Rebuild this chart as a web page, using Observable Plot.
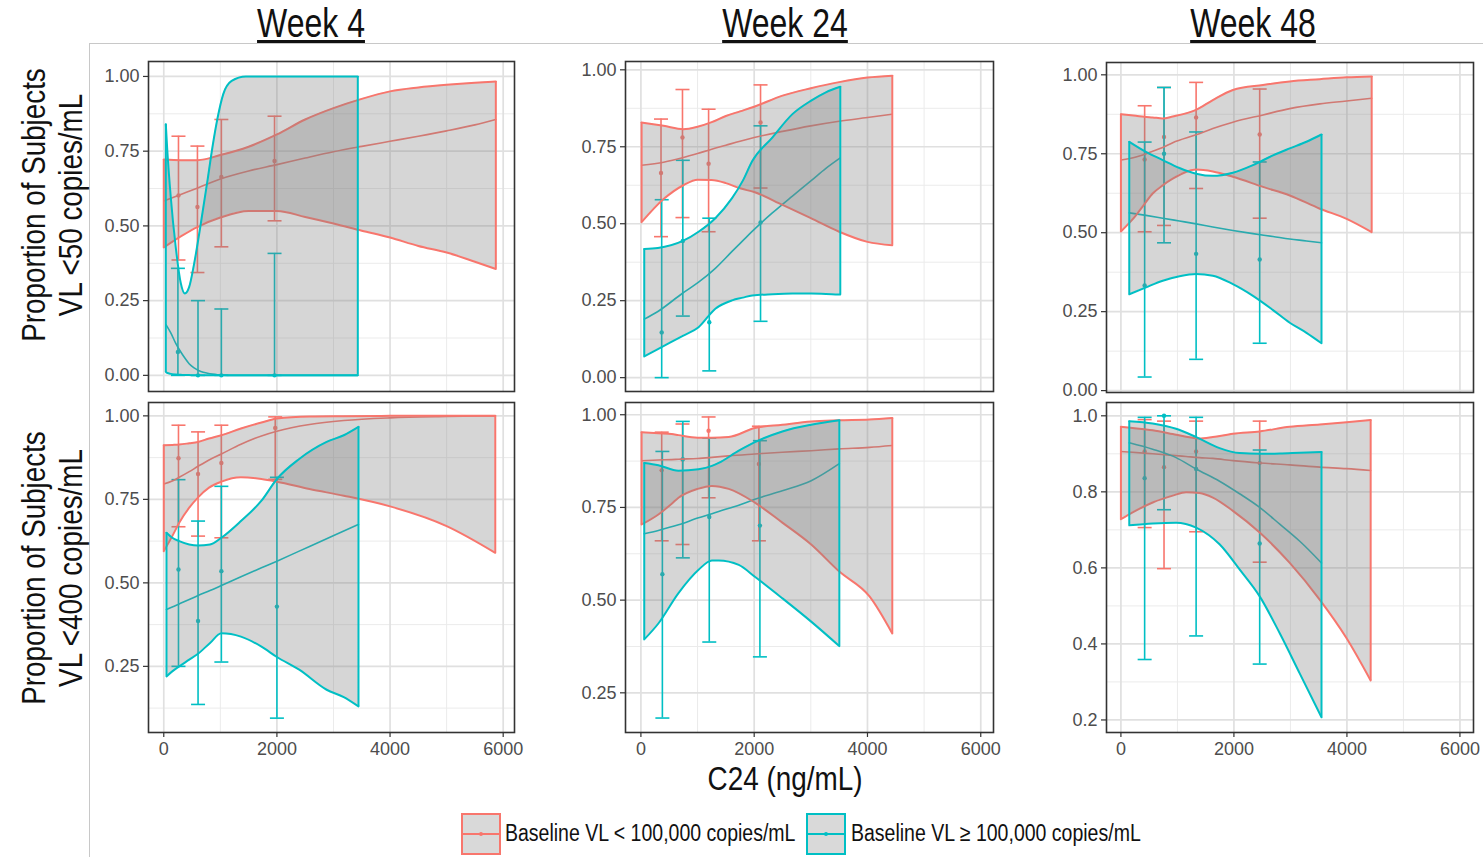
<!DOCTYPE html>
<html>
<head>
<meta charset="utf-8">
<script src="https://cdn.jsdelivr.net/npm/d3@7"></script>
<script src="https://cdn.jsdelivr.net/npm/@observablehq/plot@0.6"></script>
<style>
  body { margin: 0; background: #fff; }
  #root { position: relative; width: 1483px; height: 857px; overflow: hidden; background: #fff;
          font-family: "Liberation Sans", Arial, sans-serif; }
  .abs { position: absolute; }
  .narrow { font-family: "Liberation Sans", Arial, sans-serif; color: #111; white-space: nowrap; }
  .week { font-size: 40px; line-height: 40px; text-decoration: underline; text-decoration-thickness: 3px; text-underline-offset: 3px; transform: translateX(-50%) scaleX(0.8); }
  .ytitle { font-size: 33.5px; line-height: 37px; width: 360px; height: 74px; text-align: center; transform: rotate(-90deg) scaleX(0.83); }
  .xtitle { font-size: 34px; line-height: 34px; transform: translateX(-50%) scaleX(0.82); }
  .legtext { font-size: 23.5px; line-height: 23px; transform: scaleX(0.83); transform-origin: 0 50%; }
</style>
</head>
<body>
<div id="root"></div>
<script>
// ---------------- data ----------------
const xMajor = [0, 2000, 4000, 6000];
const xMinor = [1000, 3000, 5000];
const yMajor100 = [0, 0.25, 0.5, 0.75, 1];
const yMinor100 = [0.125, 0.375, 0.625, 0.875];
const yMajorW48 = [0.2, 0.4, 0.6, 0.8, 1.0];
const yMinorW48 = [0.3, 0.5, 0.7, 0.9];
const weekTitles = ["Week 4", "Week 24", "Week 48"];
const rowTitles = [["Proportion of Subjects", "VL <50 copies/mL"], ["Proportion of Subjects", "VL <400 copies/mL"]];
const xTitle = "C24 (ng/mL)";
const groupLabels = ["Baseline VL < 100,000 copies/mL", "Baseline VL \u2265 100,000 copies/mL"];
const groupColors = ["#F8766D", "#00BFC4"];

// curve rows: [C24, fitted, lower CI, upper CI]; observed rows: [C24, proportion, lower, upper]
// Week 4, VL < 50
const w4v50LoCurve = [
  [0, 0.583, 0.428, 0.722], [300, 0.605, 0.465, 0.72], [600, 0.627, 0.497, 0.72], [1000, 0.657, 0.528, 0.737],
  [1500, 0.684, 0.55, 0.765], [2000, 0.705, 0.55, 0.806], [2500, 0.727, 0.53, 0.856], [3000, 0.748, 0.508, 0.894],
  [3500, 0.766, 0.484, 0.925], [4000, 0.783, 0.461, 0.95], [4500, 0.80, 0.433, 0.963], [5000, 0.818, 0.411, 0.972],
  [5500, 0.838, 0.38, 0.979], [5870, 0.856, 0.356, 0.983]];
const w4v50LoObs = [[260, 0.602, 0.386, 0.80], [595, 0.563, 0.344, 0.767], [1018, 0.664, 0.43, 0.856], [1958, 0.717, 0.517, 0.867]];
const w4v50HiCurve = [
  [36, 0.17, 0.012, 0.84], [60, 0.163, 0.008, 0.76], [124, 0.142, 0.005, 0.595], [212, 0.107, 0.003, 0.428],
  [301, 0.078, 0.002, 0.308], [372, 0.058, 0.001, 0.274], [448, 0.039, 0.001, 0.295], [537, 0.025, 0, 0.374],
  [655, 0.013, 0, 0.508], [773, 0.007, 0, 0.652], [861, 0.004, 0, 0.764], [950, 0.002, 0, 0.86],
  [1050, 0.001, 0, 0.94], [1200, 0, 0, 0.985], [1450, 0, 0, 1.0], [2000, 0, 0, 1.0], [3430, 0, 0, 1.0]];
const w4v50HiObs = [[250, 0.078, 0, 0.358], [605, 0, 0, 0.25], [1018, 0, 0, 0.222], [1958, 0, 0, 0.408]];

// Week 24, VL < 50
const w24v50LoCurve = [
  [12, 0.69, 0.505, 0.829], [400, 0.70, 0.58, 0.818], [750, 0.715, 0.625, 0.807], [1000, 0.728, 0.643, 0.815],
  [1250, 0.742, 0.642, 0.83], [1500, 0.755, 0.632, 0.85], [1750, 0.768, 0.615, 0.865], [2000, 0.78, 0.603, 0.88],
  [2500, 0.80, 0.561, 0.916], [3000, 0.818, 0.518, 0.94], [3500, 0.833, 0.474, 0.96], [4000, 0.845, 0.441, 0.975],
  [4438, 0.856, 0.43, 0.981]];
const w24v50LoObs = [[355, 0.665, 0.458, 0.84], [734, 0.78, 0.52, 0.936], [1195, 0.695, 0.474, 0.872], [2112, 0.829, 0.616, 0.951]];
const w24v50HiCurve = [
  [59, 0.19, 0.069, 0.418], [300, 0.215, 0.093, 0.421], [740, 0.275, 0.136, 0.444], [1018, 0.31, 0.164, 0.474],
  [1314, 0.355, 0.224, 0.518], [1609, 0.41, 0.251, 0.583], [1800, 0.445, 0.26, 0.64], [1964, 0.475, 0.267, 0.703],
  [2320, 0.535, 0.271, 0.78], [2675, 0.59, 0.273, 0.856], [3006, 0.64, 0.273, 0.9], [3266, 0.68, 0.272, 0.927],
  [3520, 0.714, 0.27, 0.945]];
const w24v50HiObs = [[367, 0.147, 0, 0.578], [740, 0.444, 0.2, 0.706], [1207, 0.18, 0.022, 0.518], [2112, 0.504, 0.183, 0.818]];

// Week 48, VL < 50
const w48v50LoCurve = [
  [0, 0.73, 0.504, 0.875], [266, 0.74, 0.555, 0.87], [414, 0.748, 0.59, 0.867], [562, 0.758, 0.624, 0.865],
  [740, 0.77, 0.65, 0.862], [917, 0.785, 0.671, 0.868], [1331, 0.81, 0.70, 0.889], [1627, 0.83, 0.694, 0.92],
  [1982, 0.85, 0.677, 0.952], [2515, 0.873, 0.645, 0.968], [2988, 0.893, 0.618, 0.979], [3521, 0.908, 0.576, 0.986],
  [3994, 0.917, 0.544, 0.992], [4438, 0.926, 0.502, 0.995]];
const w48v50LoObs = [[420, 0.732, 0.503, 0.902], [763, 0.803, 0.523, 0.96], [1331, 0.865, 0.64, 0.976], [2456, 0.811, 0.546, 0.955]];
const w48v50HiCurve = [
  [148, 0.563, 0.305, 0.788], [444, 0.555, 0.327, 0.756], [740, 0.546, 0.348, 0.73], [1036, 0.537, 0.362, 0.705],
  [1331, 0.528, 0.369, 0.687], [1627, 0.518, 0.364, 0.68], [1982, 0.507, 0.337, 0.69], [2337, 0.497, 0.30, 0.714],
  [2692, 0.488, 0.255, 0.745], [2988, 0.48, 0.215, 0.767], [3284, 0.474, 0.183, 0.788], [3550, 0.468, 0.15, 0.811]];
const w48v50HiObs = [[420, 0.333, 0.043, 0.787], [763, 0.75, 0.468, 0.96], [1331, 0.433, 0.099, 0.819], [2456, 0.415, 0.15, 0.724]];

// Week 4, VL < 400
const w4v400LoCurve = [
  [0, 0.796, 0.595, 0.912], [150, 0.805, 0.64, 0.913], [273, 0.816, 0.68, 0.914], [450, 0.833, 0.725, 0.918],
  [606, 0.849, 0.756, 0.922], [800, 0.868, 0.785, 0.932], [1018, 0.886, 0.803, 0.942], [1364, 0.915, 0.816, 0.962],
  [1727, 0.94, 0.811, 0.98], [2000, 0.954, 0.803, 0.992], [2576, 0.974, 0.781, 0.998], [3182, 0.986, 0.761, 0.999],
  [4000, 0.994, 0.729, 1.0], [5000, 0.998, 0.67, 1.0], [5860, 1.0, 0.59, 1.0]];
const w4v400LoObs = [[260, 0.873, 0.668, 0.972], [606, 0.826, 0.64, 0.952], [1018, 0.859, 0.635, 0.972], [1970, 0.964, 0.81, 0.997]];
const w4v400HiCurve = [
  [48, 0.42, 0.22, 0.65], [150, 0.428, 0.235, 0.635], [273, 0.437, 0.25, 0.625], [450, 0.45, 0.27, 0.615],
  [606, 0.462, 0.288, 0.612], [818, 0.477, 0.32, 0.615], [1018, 0.492, 0.349, 0.635], [1364, 0.518, 0.339, 0.685],
  [1727, 0.545, 0.309, 0.746], [2000, 0.565, 0.278, 0.811], [2394, 0.595, 0.24, 0.871], [2879, 0.632, 0.18, 0.922],
  [3182, 0.655, 0.158, 0.942], [3442, 0.675, 0.13, 0.967]];
const w4v400HiObs = [[260, 0.54, 0.25, 0.809], [606, 0.386, 0.136, 0.685], [1018, 0.535, 0.263, 0.789], [2000, 0.429, 0.095, 0.816]];

// Week 24, VL < 400
const w24v400LoCurve = [
  [12, 0.876, 0.704, 0.953], [308, 0.878, 0.731, 0.95], [544, 0.879, 0.76, 0.948], [663, 0.88, 0.776, 0.945],
  [1000, 0.882, 0.80, 0.938], [1254, 0.885, 0.808, 0.938], [1550, 0.889, 0.80, 0.94], [2012, 0.894, 0.763, 0.964],
  [2497, 0.899, 0.709, 0.973], [3006, 0.903, 0.65, 0.982], [3503, 0.908, 0.577, 0.985], [4036, 0.912, 0.51, 0.987],
  [4438, 0.917, 0.41, 0.991]];
const w24v400LoObs = [[367, 0.85, 0.66, 0.953], [734, 0.879, 0.65, 0.975], [1195, 0.957, 0.776, 0.994], [2083, 0.867, 0.66, 0.969]];
const w24v400HiCurve = [
  [59, 0.679, 0.394, 0.87], [308, 0.688, 0.437, 0.864], [663, 0.703, 0.519, 0.849], [1018, 0.722, 0.582, 0.853],
  [1254, 0.733, 0.607, 0.862], [1373, 0.739, 0.607, 0.87], [1728, 0.756, 0.595, 0.903], [2012, 0.772, 0.563, 0.926],
  [2497, 0.795, 0.505, 0.955], [3006, 0.822, 0.442, 0.973], [3503, 0.868, 0.376, 0.985]];
const w24v400HiObs = [[379, 0.57, 0.182, 0.901], [740, 0.88, 0.614, 0.982], [1207, 0.724, 0.387, 0.937], [2101, 0.701, 0.347, 0.93]];

// Week 48, VL < 400
const w48v400LoCurve = [
  [0, 0.906, 0.728, 0.971], [207, 0.904, 0.746, 0.968], [562, 0.90, 0.772, 0.962], [917, 0.896, 0.79, 0.952],
  [1154, 0.893, 0.799, 0.945], [1390, 0.89, 0.797, 0.94], [1627, 0.888, 0.785, 0.944], [1982, 0.882, 0.75, 0.953],
  [2456, 0.876, 0.693, 0.959], [2988, 0.871, 0.613, 0.971], [3521, 0.865, 0.516, 0.977], [3994, 0.861, 0.415, 0.983],
  [4420, 0.856, 0.304, 0.989]];
const w48v400LoObs = [[420, 0.906, 0.706, 0.99], [763, 0.865, 0.598, 0.986], [1331, 0.906, 0.695, 0.986], [2456, 0.876, 0.615, 0.986]];
const w48v400HiCurve = [
  [148, 0.929, 0.712, 0.986], [562, 0.912, 0.717, 0.98], [976, 0.89, 0.719, 0.966], [1331, 0.86, 0.706, 0.944],
  [1746, 0.828, 0.662, 0.915], [2100, 0.795, 0.596, 0.902], [2456, 0.759, 0.525, 0.90], [2811, 0.715, 0.428, 0.901],
  [3166, 0.67, 0.322, 0.903], [3550, 0.613, 0.207, 0.905]];
const w48v400HiObs = [[420, 0.836, 0.359, 0.996], [763, 1.0, 0.753, 1.0], [1331, 0.86, 0.421, 0.996], [2456, 0.664, 0.347, 0.91]];

// ---------------- layout ----------------
const panels = [
  {L: 148, T: 61, W: 366, H: 330, xd: [-270, 6200], yd: [-0.054, 1.05], yt: yMajor100, ym: yMinor100, fmt: ".2f", showX: false,
   curves: [w4v50LoCurve, w4v50HiCurve], obs: [w4v50LoObs, w4v50HiObs]},
  {L: 625, T: 61, W: 368, H: 330, xd: [-272, 6225], yd: [-0.045, 1.027], yt: yMajor100, ym: yMinor100, fmt: ".2f", showX: false,
   curves: [w24v50LoCurve, w24v50HiCurve], obs: [w24v50LoObs, w24v50HiObs]},
  {L: 1106, T: 62, W: 367, H: 330, xd: [-255, 6240], yd: [-0.006, 1.039], yt: yMajor100, ym: yMinor100, fmt: ".2f", showX: false,
   curves: [w48v50LoCurve, w48v50HiCurve], obs: [w48v50LoObs, w48v50HiObs]},
  {L: 148, T: 402, W: 366, H: 330, xd: [-270, 6200], yd: [0.052, 1.04], yt: yMajor100, ym: yMinor100, fmt: ".2f", showX: true,
   curves: [w4v400LoCurve, w4v400HiCurve], obs: [w4v400LoObs, w4v400HiObs]},
  {L: 625, T: 402, W: 368, H: 330, xd: [-272, 6225], yd: [0.143, 1.033], yt: yMajor100, ym: yMinor100, fmt: ".2f", showX: true,
   curves: [w24v400LoCurve, w24v400HiCurve], obs: [w24v400LoObs, w24v400HiObs]},
  {L: 1106, T: 402, W: 367, H: 330, xd: [-255, 6240], yd: [0.167, 1.035], yt: yMajorW48, ym: yMinorW48, fmt: ".1f", showX: true,
   curves: [w48v400LoCurve, w48v400HiCurve], obs: [w48v400LoObs, w48v400HiObs]}
];

const root = document.getElementById("root");
const capSymbol = {draw(ctx, size) { const r = Math.sqrt(size / Math.PI); ctx.moveTo(-r, 0); ctx.lineTo(r, 0); }};
const inside = (arr, d) => arr.filter(v => v >= Math.min(...d) && v <= Math.max(...d));

function addDiv(style, text, cls) {
  const el = document.createElement("div");
  el.className = "abs " + (cls || "");
  Object.assign(el.style, style);
  if (text !== undefined) el.textContent = text;
  root.appendChild(el);
  return el;
}
// slide frame lines
addDiv({left: "89px", top: "43px", width: "1px", height: "814px", background: "#c8c8c8"});
addDiv({left: "89px", top: "43px", width: "1394px", height: "1px", background: "#c8c8c8"});

for (const p of panels) {
  const mL = 62, mR = 4, mT = 4, mB = p.showX ? 40 : 4;
  const marks = [
    Plot.gridX(xMinor, {stroke: "#ebebeb", strokeOpacity: 1, strokeWidth: 1}),
    Plot.gridY(inside(p.ym, p.yd), {stroke: "#ebebeb", strokeOpacity: 1, strokeWidth: 1}),
    Plot.gridX(xMajor, {stroke: "#e0e0e0", strokeOpacity: 1, strokeWidth: 1.7}),
    Plot.gridY(inside(p.yt, p.yd), {stroke: "#e0e0e0", strokeOpacity: 1, strokeWidth: 1.7})
  ];
  p.obs.forEach((o, g) => {
    const c = groupColors[g];
    marks.push(Plot.ruleX(o, {x: d => d[0], y1: d => d[2], y2: d => d[3], stroke: c, strokeWidth: 1.6}));
    marks.push(Plot.dot(o, {x: d => d[0], y: d => d[2], symbol: capSymbol, r: 7, stroke: c, strokeWidth: 1.6}));
    marks.push(Plot.dot(o, {x: d => d[0], y: d => d[3], symbol: capSymbol, r: 7, stroke: c, strokeWidth: 1.6}));
    marks.push(Plot.dot(o, {x: d => d[0], y: d => d[1], r: 2.2, fill: c, stroke: "none"}));
  });
  p.curves.forEach((cv, g) => {
    marks.push(Plot.line(cv, {x: d => d[0], y: d => d[1], stroke: groupColors[g], strokeWidth: 1.6, curve: "monotone-x"}));
  });
  p.curves.forEach((cv, g) => {
    const c = groupColors[g];
    marks.push(Plot.areaY(cv, {x: d => d[0], y1: d => d[2], y2: d => d[3], fill: "#7f7f7f", fillOpacity: 0.32, curve: "monotone-x"}));
    marks.push(Plot.line(cv, {x: d => d[0], y: d => d[3], stroke: c, strokeWidth: 2, curve: "monotone-x"}));
    marks.push(Plot.line(cv, {x: d => d[0], y: d => d[2], stroke: c, strokeWidth: 2, curve: "monotone-x"}));
    marks.push(Plot.ruleX([cv[0], cv[cv.length - 1]], {x: d => d[0], y1: d => d[2], y2: d => d[3], stroke: c, strokeWidth: 2}));
  });
  marks.push(Plot.frame({stroke: "#333", strokeWidth: 1.6}));
  marks.push(Plot.axisY(inside(p.yt, p.yd), {tickSize: 5, tickPadding: 4, tickFormat: d3.format(p.fmt), fill: "#4d4d4d", stroke: "#333", strokeWidth: 1.2, label: null, fontSize: 18}));
  if (p.showX) marks.push(Plot.axisX(xMajor, {tickSize: 5, tickPadding: 5, tickFormat: d => String(d), fill: "#4d4d4d", stroke: "#333", strokeWidth: 1.2, label: null, fontSize: 18}));

  const svg = Plot.plot({
    width: p.W + mL + mR, height: p.H + mT + mB,
    marginLeft: mL, marginRight: mR, marginTop: mT, marginBottom: mB,
    style: {fontFamily: "'Liberation Sans', Arial, sans-serif", fontSize: "18px", background: "transparent", overflow: "visible"},
    x: {domain: p.xd, axis: null},
    y: {domain: p.yd, axis: null},
    marks
  });
  svg.style.position = "absolute";
  svg.style.left = (p.L - mL) + "px";
  svg.style.top = (p.T - mT) + "px";
  root.appendChild(svg);
}

// week titles
const weekCenters = [311, 785, 1253];
weekTitles.forEach((t, i) => addDiv({left: weekCenters[i] + "px", top: "3px"}, t, "narrow week"));

// row titles
const rowCenters = [205, 568];
rowTitles.forEach((lines, i) => {
  const el = addDiv({left: (52 - 180) + "px", top: (rowCenters[i] - 37) + "px"}, undefined, "narrow ytitle");
  el.innerHTML = lines.map(s => `<div>${s.replace(/</g, "&lt;")}</div>`).join("");
});

// x title
addDiv({left: "785px", top: "761px"}, xTitle, "narrow xtitle");

// legend
const legendBoxes = [461, 806];
const legendTexts = [505, 851];
groupLabels.forEach((lab, i) => {
  const c = groupColors[i];
  const box = addDiv({left: legendBoxes[i] + "px", top: "813px", width: "40px", height: "42px"});
  box.innerHTML = `<svg width="40" height="42"><rect x="1" y="1" width="38" height="40" fill="#d9d9d9" stroke="${c}" stroke-width="2"/>` +
    `<line x1="1" x2="39" y1="21" y2="21" stroke="${c}" stroke-width="2"/><circle cx="20" cy="21" r="2" fill="${c}"/></svg>`;
  addDiv({left: legendTexts[i] + "px", top: "822px"}, lab, "narrow legtext");
});
</script>
</body>
</html>
